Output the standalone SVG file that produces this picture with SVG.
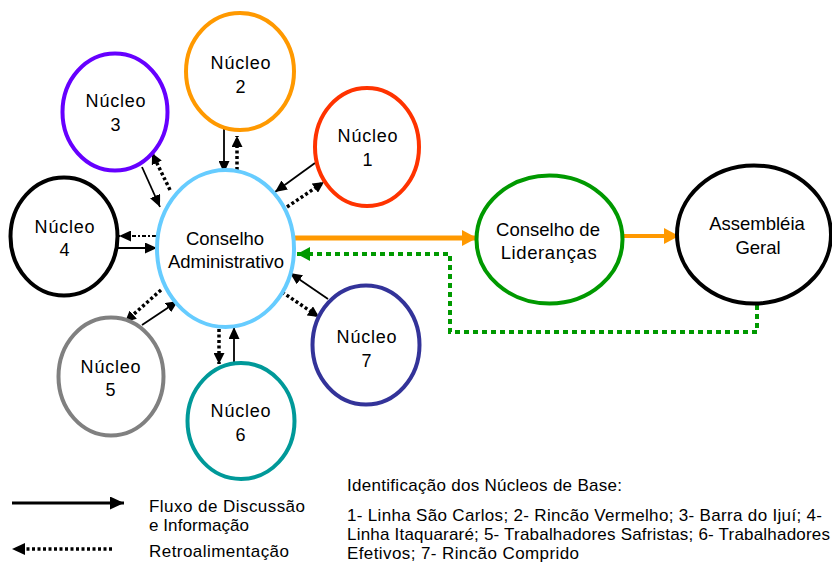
<svg xmlns="http://www.w3.org/2000/svg" width="832" height="566" viewBox="0 0 832 566">
  <style>
    text { font-family: "Liberation Sans", Arial, sans-serif; fill: #000; }
    .lbl { font-size: 18.5px; text-anchor: middle; }
    .nuc { font-size: 18px; text-anchor: middle; letter-spacing: 0.8px; }
    .leg { font-size: 17px; }
    .node { fill: #fff; stroke-width: 4; }
    .solid { stroke: #000; stroke-width: 1.8; fill: none; marker-end: url(#arrS); }
    .dot { stroke: #000; stroke-width: 3.5; stroke-dasharray: 3 2.5; fill: none; marker-end: url(#arrD); }
    .dash { stroke: #000; stroke-width: 2; stroke-dasharray: 4 2 2 2; fill: none; marker-end: url(#arrS); }
    .orange { stroke: #FF9900; fill: none; }
    .green { stroke: #009900; stroke-width: 4; stroke-dasharray: 5 4; fill: none; }
  </style>
  <defs>
    <marker id="arrS" markerUnits="userSpaceOnUse" markerWidth="12" markerHeight="11" refX="12" refY="5.5" orient="auto">
      <path d="M0,0 L12,5.5 L0,11 z" fill="#000"/>
    </marker>
    <marker id="arrL" markerUnits="userSpaceOnUse" markerWidth="14" markerHeight="13" refX="14" refY="6.5" orient="auto">
      <path d="M0,0 L14,6.5 L0,13 z" fill="#000"/>
    </marker>
    <marker id="arrD" markerUnits="userSpaceOnUse" markerWidth="11" markerHeight="11" refX="11" refY="5.5" orient="auto">
      <path d="M0,0 L11,5.5 L0,11 z" fill="#000"/>
    </marker>
    <marker id="arrO" markerUnits="userSpaceOnUse" markerWidth="15" markerHeight="16" refX="15" refY="8" orient="auto">
      <path d="M0,0 L15,8 L0,16 z" fill="#FF9900"/>
    </marker>
    <marker id="arrG" markerUnits="userSpaceOnUse" markerWidth="13" markerHeight="14" refX="13" refY="7" orient="auto">
      <path d="M0,0 L13,7 L0,14 z" fill="#009900"/>
    </marker>
  </defs>

  <!-- connectors -->
  <g id="connectors">
    <!-- discussion flow into the council -->
    <line class="solid" x1="224" y1="128" x2="224" y2="173"/>
    <line class="solid" x1="142" y1="167" x2="160" y2="207"/>
    <line class="solid" x1="315" y1="163" x2="275" y2="192"/>
    <line class="solid" x1="118" y1="248" x2="157" y2="248"/>
    <line class="solid" x1="142" y1="325" x2="178" y2="301"/>
    <line class="solid" x1="234" y1="362" x2="234" y2="327"/>
    <line class="solid" x1="328" y1="299" x2="290" y2="273"/>
    <!-- feedback back to the base nuclei -->
    <line class="dot" x1="237" y1="170" x2="237" y2="136"/>
    <line class="dot" x1="170" y1="190" x2="152" y2="153"/>
    <line class="dot" x1="287" y1="207" x2="324" y2="182"/>
    <line class="dash" x1="156" y1="236" x2="119" y2="236"/>
    <line class="dot" x1="161" y1="290" x2="125" y2="322"/>
    <line class="dot" x1="219" y1="329" x2="219" y2="364"/>
    <line class="dot" x1="282" y1="292" x2="319" y2="317"/>
    <!-- council chain -->
    <line class="orange" stroke-width="5" x1="295" y1="238" x2="477" y2="238" marker-end="url(#arrO)"/>
    <line class="orange" stroke-width="4" x1="624" y1="236" x2="679" y2="236" marker-end="url(#arrO)"/>
    <polyline class="green" points="757,305 757,332 450,332 450,254 310,254"/>
    <line x1="312" y1="254" x2="297" y2="254" stroke="#009900" stroke-width="4" marker-end="url(#arrG)"/>
  </g>

  <g id="conselho-administrativo">
    <ellipse class="node" cx="225.5" cy="248.5" rx="68.5" ry="78.5" stroke="#66CCFF"/>
    <text class="lbl" x="225" y="245">Conselho</text>
    <text class="lbl" x="226" y="268">Administrativo</text>
  </g>
  <g id="nucleo-1">
    <ellipse class="node" cx="367" cy="147" rx="52" ry="59" stroke="#FF3300"/>
    <text class="nuc" x="368" y="142">Núcleo</text>
    <text class="nuc" x="368" y="166">1</text>
  </g>
  <g id="nucleo-2">
    <ellipse class="node" cx="240" cy="71.5" rx="54" ry="58.5" stroke="#FF9900"/>
    <text class="nuc" x="241" y="69">Núcleo</text>
    <text class="nuc" x="241" y="93">2</text>
  </g>
  <g id="nucleo-3">
    <ellipse class="node" cx="115" cy="112" rx="52.5" ry="58.5" stroke="#6600FF"/>
    <text class="nuc" x="116" y="107">Núcleo</text>
    <text class="nuc" x="116" y="131">3</text>
  </g>
  <g id="nucleo-4">
    <ellipse class="node" cx="64" cy="236.5" rx="53.5" ry="59" stroke="#000"/>
    <text class="nuc" x="65" y="233">Núcleo</text>
    <text class="nuc" x="65" y="256">4</text>
  </g>
  <g id="nucleo-5">
    <ellipse class="node" cx="111" cy="376.5" rx="52.5" ry="59" stroke="#808080"/>
    <text class="nuc" x="111" y="373">Núcleo</text>
    <text class="nuc" x="111" y="396">5</text>
  </g>
  <g id="nucleo-6">
    <ellipse class="node" cx="241" cy="421" rx="53.5" ry="58" stroke="#009999"/>
    <text class="nuc" x="241" y="417">Núcleo</text>
    <text class="nuc" x="241" y="441">6</text>
  </g>
  <g id="nucleo-7">
    <ellipse class="node" cx="366" cy="345" rx="53.5" ry="59.5" stroke="#333399"/>
    <text class="nuc" x="367" y="343">Núcleo</text>
    <text class="nuc" x="367" y="367">7</text>
  </g>
  <g id="conselho-liderancas">
    <ellipse class="node" cx="549.5" cy="239.5" rx="73" ry="64" stroke="#009900" stroke-width="3.5"/>
    <text class="lbl" x="548" y="236">Conselho de</text>
    <text class="lbl" x="549" y="259" letter-spacing="0.6">Lideranças</text>
  </g>
  <g id="assembleia-geral">
    <ellipse class="node" cx="754" cy="234.5" rx="77" ry="69" stroke="#000" stroke-width="3.5"/>
    <text class="lbl" x="757" y="230">Assembléia</text>
    <text class="lbl" x="758" y="254">Geral</text>
  </g>

  <g id="legenda">
    <line x1="12" y1="503" x2="124" y2="503" stroke="#000" stroke-width="3" marker-end="url(#arrL)"/>
    <line x1="112" y1="549" x2="22" y2="549" stroke="#000" stroke-width="3.5" stroke-dasharray="3 2.5"/>
    <path d="M12,549 L25,543 L25,555 z" fill="#000"/>
    <text class="leg" x="149" y="512" textLength="156" lengthAdjust="spacing">Fluxo de Discussão</text>
    <text class="leg" x="149" y="531" textLength="100" lengthAdjust="spacing">e Informação</text>
    <text class="leg" x="149" y="557" textLength="140" lengthAdjust="spacing">Retroalimentação</text>
  </g>
  <g id="identificacao">
    <text class="leg" x="347" y="491" textLength="275" lengthAdjust="spacing">Identificação dos Núcleos de Base:</text>
    <text class="leg" x="347" y="521" textLength="475" lengthAdjust="spacing">1- Linha São Carlos; 2- Rincão Vermelho; 3- Barra do Ijuí; 4-</text>
    <text class="leg" x="347" y="540" textLength="483" lengthAdjust="spacing">Linha Itaquararé; 5- Trabalhadores Safristas; 6- Trabalhadores</text>
    <text class="leg" x="347" y="559" textLength="232" lengthAdjust="spacing">Efetivos; 7- Rincão Comprido</text>
  </g>
</svg>
